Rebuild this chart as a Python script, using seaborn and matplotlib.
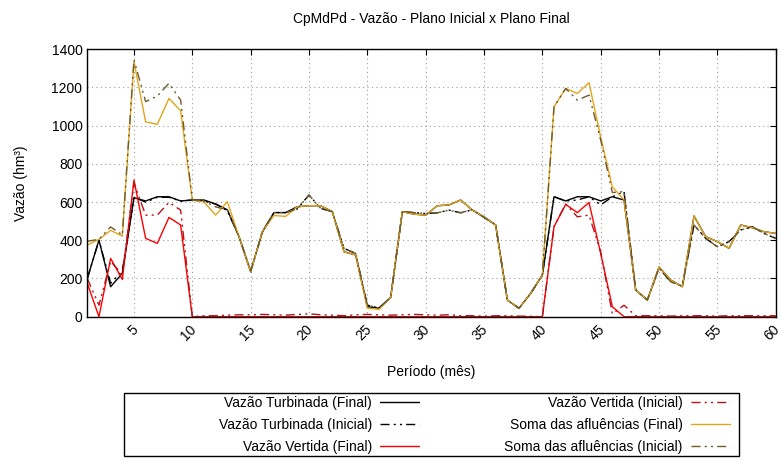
import numpy as np
import matplotlib
matplotlib.use("Agg")
import pandas as pd
import matplotlib.pyplot as plt
import matplotlib.transforms as mtransforms
from matplotlib.patches import Rectangle
import seaborn as sns

periodos = list(range(1, 61))

turbinada_final = [200, 401, 157, 227, 623, 606, 628, 628, 606, 611,
                   611, 590, 560, 420, 235, 445, 545, 545, 576, 581,
                   581, 550, 340, 323, 52, 45, 101, 550, 537, 532,
                   581, 585, 611, 558, 523, 480, 87, 44, 122, 218,
                   628, 606, 628, 628, 606, 628, 611, 140, 87, 260,
                   192, 157, 527, 419, 393, 358, 480, 466, 445, 436]

turbinada_inicial = [200, 400, 175, 240, 625, 600, 625, 625, 605, 611,
                     605, 590, 555, 420, 240, 440, 545, 545, 565, 637,
                     567, 550, 358, 331, 61, 45, 101, 550, 545, 540,
                     544, 558, 544, 560, 520, 480, 87, 44, 122, 218,
                     628, 606, 611, 628, 585, 628, 655, 140, 87, 255,
                     183, 160, 480, 410, 366, 393, 454, 471, 436, 410]

vertida_final = [175, 0, 305, 195, 715, 410, 384, 520, 480, 0,
                 0, 0, 0, 0, 0, 0, 0, 0, 0, 0,
                 0, 0, 0, 0, 0, 0, 0, 0, 0, 0,
                 0, 0, 0, 0, 0, 0, 0, 0, 0, 0,
                 471, 588, 545, 598, 331, 52, 0, 0, 0, 0,
                 0, 0, 0, 0, 0, 0, 0, 0, 0, 0]

vertida_inicial = [200, 60, 290, 220, 700, 532, 532, 598, 558, 0,
                   5, 5, 8, 10, 10, 12, 10, 8, 12, 15,
                   10, 8, 5, 10, 12, 10, 8, 10, 12, 10,
                   8, 10, 5, 5, 3, 5, 5, 3, 2, 0,
                   471, 590, 523, 532, 340, 15, 60, 5, 5, 5,
                   3, 5, 5, 5, 3, 5, 5, 5, 5, 5]

soma_final = [375, 405, 452, 422, 1335, 1020, 1007, 1143, 1078, 611,
              600, 532, 602, 420, 235, 445, 530, 525, 576, 581,
              581, 550, 340, 323, 45, 38, 101, 550, 537, 532,
              581, 585, 611, 558, 523, 480, 87, 44, 122, 218,
              1099, 1195, 1169, 1225, 940, 680, 612, 140, 87, 260,
              192, 157, 527, 419, 393, 358, 480, 466, 445, 436]

soma_inicial = [395, 405, 470, 428, 1345, 1126, 1155, 1222, 1134, 611,
                605, 575, 560, 420, 240, 440, 545, 545, 565, 637,
                567, 550, 358, 331, 61, 45, 101, 550, 545, 540,
                544, 558, 544, 560, 520, 480, 87, 44, 122, 218,
                1099, 1195, 1134, 1160, 925, 650, 655, 140, 87, 255,
                183, 160, 480, 410, 366, 393, 454, 471, 436, 410]

sns.set_style("white")
plt.rcParams['font.family'] = ['Liberation Sans', 'DejaVu Sans']
plt.rcParams['font.size'] = 10
plt.rcParams['text.color'] = 'black'
plt.rcParams['axes.labelcolor'] = 'black'

dashdot = (0, (6.5, 3, 1.5, 3, 1.5, 3))

series = [
    ("Vazão Turbinada (Final)", turbinada_final, "black", "-"),
    ("Vazão Turbinada (Inicial)", turbinada_inicial, "black", dashdot),
    ("Vazão Vertida (Final)", vertida_final, "#ff0000", "-"),
    ("Vazão Vertida (Inicial)", vertida_inicial, "#b5121b", dashdot),
    ("Soma das afluências (Final)", soma_final, "#e3a51c", "-"),
    ("Soma das afluências (Inicial)", soma_inicial, "#6e5c2c", dashdot),
]

fig = plt.figure(figsize=(7.83, 4.65), dpi=100)
ax = fig.add_subplot(111)
fig.subplots_adjust(left=87.3/783, right=775.7/783, top=1-49.3/465, bottom=1-316.7/465)

for nome, valores, cor, estilo in series:
    df = pd.DataFrame({"Periodo": periodos, "Vazao": valores})
    sns.lineplot(data=df, x="Periodo", y="Vazao", ax=ax, color=cor,
                 linestyle=estilo, linewidth=1.0, label=nome)

ax.set_xlim(1, 60)
ax.set_ylim(0, 1400)
ax.set_xticks(range(5, 61, 5))
ax.set_yticks(range(0, 1401, 200))
ax.grid(True, color="#9a9a9a", linestyle=(0, (1, 3)), linewidth=0.8)
ax.tick_params(direction="in", top=True, right=True, length=4.5, width=0.8,
               labelsize=10, colors="black")
ax.tick_params(axis="x", pad=4)
desloc = mtransforms.ScaledTranslation(-3/100, 0, fig.dpi_scale_trans)
for lbl in ax.get_xticklabels():
    lbl.set_rotation(45)
    lbl.set_ha("right")
    lbl.set_va("top")
    lbl.set_rotation_mode("anchor")
    lbl.set_transform(lbl.get_transform() + desloc)
for sp in ax.spines.values():
    sp.set_color("black")
    sp.set_linewidth(1.0)

ax.set_title("CpMdPd - Vazão - Plano Inicial x Plano Final", fontsize=10, pad=19)
ax.set_xlabel("Período (mês)", fontsize=10, labelpad=16)
ax.set_ylabel("Vazão (hm³)", fontsize=10, labelpad=17)

handles, labels = ax.get_legend_handles_labels()
ax.get_legend().remove()

# legenda em duas colunas alinhadas à direita, como no gnuplot
opts = dict(loc="upper right", markerfirst=False, fontsize=10, handlelength=2.8,
            handletextpad=0.6, labelspacing=0.57, frameon=False,
            borderpad=0, borderaxespad=0)
fig.legend(handles[:3], labels[:3], bbox_to_anchor=(419/783, 1-396/465), **opts)
fig.legend(handles[3:], labels[3:], bbox_to_anchor=(730/783, 1-396/465), **opts)
fig.patches.append(Rectangle((124/783, 1-456/465), 615/783, 63/465,
                             transform=fig.transFigure, fill=False,
                             edgecolor="black", linewidth=1.0))

plt.savefig("out.png", dpi=100)
